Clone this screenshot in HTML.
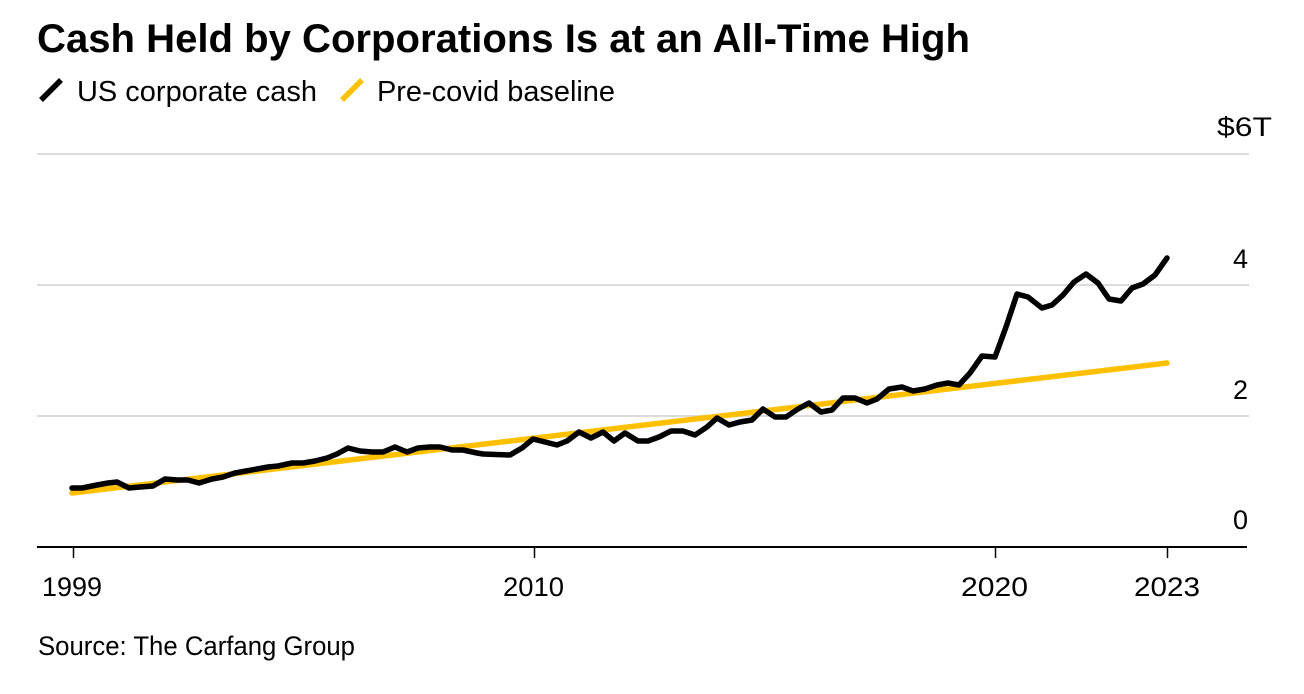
<!DOCTYPE html>
<html>
<head>
<meta charset="utf-8">
<style>
  html, body { margin: 0; padding: 0; background: #ffffff; }
  body { width: 1304px; height: 694px; overflow: hidden; }
  svg { display: block; }
  text { font-family: "Liberation Sans", Arial, sans-serif; fill: #000; }
</style>
</head>
<body>
<svg width="1304" height="694" viewBox="0 0 1304 694" xmlns="http://www.w3.org/2000/svg">
  <rect x="0" y="0" width="1304" height="694" fill="#ffffff"/>

  <!-- Title -->
  <text x="37" y="52" font-size="40" font-weight="bold" textLength="933" lengthAdjust="spacingAndGlyphs">Cash Held by Corporations Is at an All-Time High</text>

  <!-- Legend -->
  <line x1="41" y1="100" x2="61" y2="80" stroke="#000" stroke-width="5.5" stroke-linecap="butt"/>
  <text x="77" y="101" font-size="28.5" textLength="240" lengthAdjust="spacingAndGlyphs">US corporate cash</text>
  <line x1="342" y1="100" x2="362" y2="80" stroke="#ffc000" stroke-width="5.5" stroke-linecap="butt"/>
  <text x="377" y="101" font-size="28.5" textLength="238" lengthAdjust="spacingAndGlyphs">Pre-covid baseline</text>

  <!-- Gridlines -->
  <line x1="37" y1="154" x2="1249" y2="154" stroke="#dcdcdc" stroke-width="2"/>
  <line x1="37" y1="285" x2="1249" y2="285" stroke="#dcdcdc" stroke-width="2"/>
  <line x1="37" y1="416" x2="1249" y2="416" stroke="#dcdcdc" stroke-width="2"/>

  <!-- Y labels -->
  <text x="1217" y="136" font-size="27" textLength="55" lengthAdjust="spacingAndGlyphs">$6T</text>
  <text x="1248" y="268" font-size="27" text-anchor="end">4</text>
  <text x="1248" y="399" font-size="27" text-anchor="end">2</text>
  <text x="1248" y="529" font-size="27" text-anchor="end">0</text>

  <!-- Axis -->
  <line x1="37" y1="547" x2="1247" y2="547" stroke="#000" stroke-width="2"/>
  <line x1="73.5" y1="547" x2="73.5" y2="558" stroke="#000" stroke-width="1.5"/>
  <line x1="534.5" y1="547" x2="534.5" y2="558" stroke="#000" stroke-width="1.5"/>
  <line x1="995.5" y1="547" x2="995.5" y2="558" stroke="#000" stroke-width="1.5"/>
  <line x1="1167.5" y1="547" x2="1167.5" y2="558" stroke="#000" stroke-width="1.5"/>

  <!-- X labels -->
  <text x="42" y="596" font-size="27" textLength="60" lengthAdjust="spacingAndGlyphs">1999</text>
  <text x="503" y="596" font-size="27" textLength="61" lengthAdjust="spacingAndGlyphs">2010</text>
  <text x="961" y="596" font-size="27" textLength="67" lengthAdjust="spacingAndGlyphs">2020</text>
  <text x="1134" y="596" font-size="27" textLength="66" lengthAdjust="spacingAndGlyphs">2023</text>

  <!-- Baseline (yellow) -->
  <line x1="72" y1="493" x2="1167" y2="363" stroke="#ffc000" stroke-width="5.5" stroke-linecap="round"/>

  <!-- US corporate cash (black) -->
  <polyline fill="none" stroke="#000" stroke-width="5.5" stroke-linejoin="round" stroke-linecap="round"
    points="72,488 82,488 97,485 108,483 117,482 129,488 140,487 153,486 165,479 177,480 188,480 199,483 212,479 223,477 235,473 246,471 257,469 268,467 278,466 292,463 303,463 315,461 327,458 337,454 348,448 360,451 372,452 383,452 395,447 407,452 418,448 430,447 440,447 452,450 463,450 477,453 483,454 510,455 522,448 533,439 545,442 557,445 567,441 579,432 591,438 603,432 614,441 625,433 638,441 648,441 659,437 671,431 683,431 695,435 707,427 717,418 729,425 740,422 752,420 763,409 775,417 786,417 798,409 809,403 821,412 832,410 843,398 855,398 867,403 877,399 889,389 902,387 913,391 925,389 937,385 948,383 959,385 970,373 982,356 995,357 1006,327 1017,294 1028,297 1042,308 1052,305 1063,295 1074,282 1086,274 1098,283 1109,299 1121,301 1132,288 1143,284 1155,275 1167,258"/>

  <!-- Source -->
  <text x="38" y="655" font-size="27" textLength="317" lengthAdjust="spacingAndGlyphs">Source: The Carfang Group</text>
</svg>
</body>
</html>
